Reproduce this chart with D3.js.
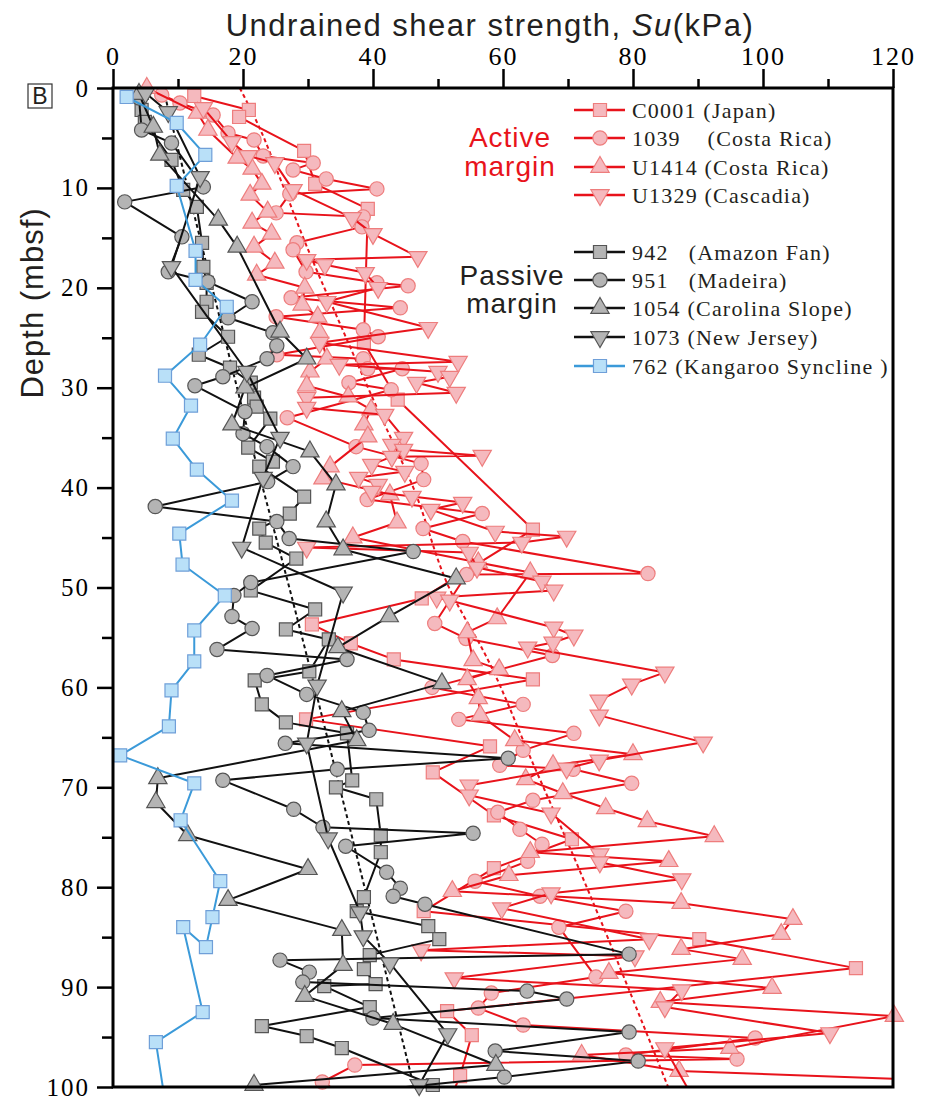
<!DOCTYPE html>
<html><head><meta charset="utf-8">
<script src="https://cdn.jsdelivr.net/npm/d3@7"></script>
<style>body{margin:0;background:#fff}</style>
</head><body>
<svg id="c" width="941" height="1102"></svg>
<script>
// ---------- DATA: [depth (mbsf), Su (kPa)] ----------
const c0001 = [[0.8,12.5],[2.2,20.9],[2.9,19.4],[6.3,29.4],[9.6,31.1],[12.1,39.2],[25.5,38.6],[31.2,43.8],[44.2,64.6],[51.1,47.5],[53.7,30.6],[55.6,36.6],[57.2,43.2],[59.2,64.6],[63.2,29.7],[65.9,58.0],[68.5,49.2],[72.8,58.6],[75.2,70.6],[78.1,58.6],[82.4,47.8],[85.2,90.2],[88.1,114.3],[92.4,51.4],[94.8,55.2],[98.9,53.4],[101,52]];
const s1039 = [[0.7,7.5],[1.5,10.3],[2.7,15.4],[4.5,17.7],[5.2,21.7],[6.8,23.1],[7.5,30.8],[8.2,27.7],[9.1,32.8],[10.1,40.6],[10.6,27.2],[12.5,25.1],[12.9,38.5],[13.9,38.3],[15.5,28.3],[16.2,27.7],[18.4,29.7],[19.5,40.6],[19.8,45.4],[21.0,27.4],[22.0,44.2],[22.9,25.1],[24.2,38.5],[24.9,40.8],[26.7,25.2],[27.1,38.5],[28.1,39.2],[28.1,44.5],[29.5,36.3],[30.2,42.8],[33.0,26.8],[35.9,37.4],[37.6,47.4],[39.2,47.8],[41.2,39.1],[42.6,56.8],[44.1,47.7],[45.4,53.8],[48.6,82.3],[48.7,54.4],[53.6,49.5],[55.1,54.3],[56.8,67.6],[60.0,49.1],[61.7,63.1],[63.2,53.2],[64.6,70.9],[66.3,63.1],[67.8,59.5],[68.2,70.8],[69.6,79.8],[71.3,64.6],[72.5,59.2],[74.2,62.6],[75.7,66.0],[77.4,63.8],[79.4,55.7],[80.9,65.7],[82.4,78.9],[84.0,68.6],[89.0,74.3],[90.6,58.2],[92.1,56.2],[93.8,63.1],[95.1,98.8],[96.8,78.9],[97.2,96.0],[97.8,37.2],[99.5,32.2],[101,36]];
const u1414 = [[0,5.2],[2.5,13.0],[4.2,14.6],[7.0,19.1],[8.1,21.4],[9.6,22.9],[10.7,21.1],[12.4,23.8],[13.5,21.4],[14.6,24.4],[15.9,21.7],[17.5,24.9],[18.7,22.1],[20.0,29.5],[21.7,29.1],[22.9,31.5],[24.5,31.8],[27.1,32.9],[28.4,30.3],[29.8,29.8],[30.9,36.2],[32.2,39.7],[33.7,38.6],[34.9,39.2],[37.9,33.4],[39.1,32.3],[40.7,42.6],[43.5,43.7],[45.0,36.9],[47.5,56.2],[48.5,64.2],[53.1,59.1],[54.5,54.5],[57.3,55.4],[58.2,59.4],[59.2,54.5],[61.1,56.2],[62.8,56.5],[65.3,61.8],[66.7,80.0],[67.8,67.7],[69.2,63.5],[70.6,69.2],[72.1,75.8],[73.4,82.2],[74.9,92.5],[76.5,64.2],[77.4,85.5],[78.8,60.9],[80.4,52.2],[81.6,87.4],[83.2,104.6],[84.7,102.8],[86.2,87.4],[87.2,96.8],[88.6,76.3],[90.1,101.4],[91.5,84.2],[92.9,120.2],[96.1,94.9],[96.8,72.1],[98.4,87.1],[99.3,125]];
const u1329 = [[2.0,13.9],[5.4,18.3],[6.8,20.8],[7.5,24.9],[10.2,27.7],[13.0,36.8],[14.6,40.0],[16.9,46.9],[17.2,29.8],[17.7,32.6],[18.5,38.8],[20.0,40.8],[21.4,32.9],[24.0,48.5],[25.5,31.8],[27.4,53.1],[27.7,34.8],[28.4,50.0],[28.9,51.8],[29.5,46.7],[30.5,52.8],[31.0,29.8],[32.0,29.8],[32.7,41.8],[35.0,44.7],[35.7,42.9],[36.2,44.7],[36.8,56.8],[36.9,42.9],[37.7,39.8],[38.4,44.9],[39.0,37.8],[39.7,40.8],[40.4,39.8],[40.9,46.0],[41.5,53.8],[42.2,48.9],[44.4,58.8],[44.9,69.8],[45.5,62.9],[46.0,29.8],[46.5,54.8],[48.0,56.0],[49.4,66.0],[50.3,67.8],[51.0,49.8],[51.3,51.8],[54.0,67.8],[54.8,70.9],[55.5,67.7],[56.0,63.8],[58.5,84.9],[59.7,79.8],[61.3,74.8],[62.8,74.8],[65.5,90.8],[67.3,74.8],[68.1,69.8],[69.8,54.8],[70.8,54.8],[72.6,67.4],[76.7,74.9],[77.5,74.9],[79.2,87.5],[80.6,67.4],[82.1,59.8],[85.2,82.5],[86.3,47.4],[86.9,80.3],[89.1,52.5],[90.3,87.5],[92.0,84.9],[94.6,110.3],[96.1,84.9],[100.8,89]];
const s942 = [[2.2,4.4],[3.4,4.9],[7.2,9.0],[10.2,10.8],[11.9,12.9],[15.5,13.7],[17.9,13.9],[19.5,14.4],[21.4,14.4],[22.4,13.7],[24.9,17.7],[26.7,13.2],[28.0,18.0],[29.5,21.2],[31.0,21.7],[31.9,22.1],[33.1,24.2],[36.0,20.8],[37.4,24.6],[37.9,22.5],[40.9,29.4],[42.6,27.2],[44.1,22.5],[45.5,23.5],[47.1,28.2],[50.3,21.2],[52.2,31.1],[54.2,26.6],[55.2,33.2],[58.4,30.2],[59.3,21.8],[61.7,22.9],[63.5,26.6],[64.6,36.0],[69.3,36.8],[70.0,34.3],[71.2,40.5],[74.8,41.2],[76.5,41.2],[81.0,38.6],[82.4,37.5],[83.9,48.5],[85.2,50.2],[86.8,39.5],[88.2,38.6],[89.7,40.4],[89.9,32.5],[92.0,39.5],[93.9,22.9],[94.9,29.8],[96.1,35.2],[99.8,49.2]];
const s951 = [[1.0,4.0],[4.2,4.4],[5.5,9.0],[9.9,13.9],[11.4,1.8],[14.9,10.6],[18.4,8.5],[19.4,14.6],[21.4,21.4],[23.0,17.7],[24.5,24.6],[25.8,25.2],[27.1,23.7],[28.9,16.9],[29.8,12.6],[32.4,20.3],[34.6,20.0],[35.9,23.7],[37.9,27.7],[39.4,23.8],[41.9,6.5],[43.4,25.2],[45.1,27.1],[46.4,46.2],[49.5,21.2],[50.8,18.6],[52.9,18.3],[54.1,21.4],[56.2,16.0],[57.2,36.0],[58.8,23.7],[60.7,29.8],[62.5,38.5],[64.3,39.4],[65.6,26.5],[67.1,60.8],[68.2,34.5],[69.3,16.9],[72.2,27.8],[74.0,32.3],[74.6,55.4],[75.9,35.8],[78.5,42.1],[80.1,44.2],[80.9,43.1],[81.7,48.0],[86.7,79.4],[87.3,25.7],[88.5,30.2],[89.5,29.2],[90.4,63.7],[91.2,69.8],[93.1,40.0],[94.5,79.4],[96.4,58.8],[97.4,80.8],[99.0,60.2],[100.8,33]];
const s1054 = [[0.6,4.0],[3.9,6.2],[6.7,7.2],[13.2,16.2],[15.9,19.1],[24.4,25.7],[27.1,29.8],[30.0,20.3],[33.7,18.3],[36.4,30.3],[39.7,34.3],[43.4,32.8],[46.2,35.4],[49.1,52.8],[52.9,42.5],[56.0,34.6],[59.6,50.6],[62.4,35.2],[65.3,37.5],[69.1,6.9],[71.5,6.6],[74.8,11.5],[78.2,30.0],[81.3,17.7],[84.3,35.2],[87.8,35.4],[90.9,29.5],[93.7,43.1],[97.8,58.9],[99.8,21.7]];
const s1073 = [[0.5,5.0],[2.4,8.5],[8.9,13.4],[17.9,9.0],[28.4,20.6],[35.0,25.7],[39.0,23.1],[46.0,19.8],[50.5,35.4],[59.8,31.4],[65.6,29.8],[75.1,33.1],[82.5,38.0],[84.9,38.5],[87.6,42.6],[94.7,51.5],[99.8,47.1]];
const s762 = [[0.9,2.1],[3.5,9.8],[6.7,14.2],[9.8,9.8],[16.3,12.7],[19.2,12.7],[21.9,17.5],[25.7,13.4],[28.8,8.0],[31.8,12.0],[35.1,9.2],[38.2,12.9],[41.3,18.3],[44.6,10.2],[47.7,10.7],[50.8,17.2],[54.3,12.5],[57.4,12.5],[60.3,9.0],[63.9,8.6],[66.8,1.1],[69.6,12.5],[73.3,10.4],[79.4,16.5],[83.0,15.3],[86.0,14.3],[84.0,10.8],[92.5,13.8],[95.5,6.6],[101,7.9]];
const activeTrend = [[0,19.5],[3.5,22.2],[9.2,25.8],[15.2,29.4],[25.2,36.0],[32,40.6],[40,46.2],[50.3,51.9],[57,57.5],[67.6,64.6],[75.3,69.8],[100,85.4]];
const passiveTrend = [[0,7.7],[8.2,10.8],[21.9,16.0],[35.2,21.1],[50.2,27.2],[75.3,36.9],[100,46.3]];
const xTicks = [0,10,20,30,40,50,60,70,80,90,100,110,120];
const xTickLabels = [0,20,40,60,80,100,120];
const yTicks = [0,5,10,15,20,25,30,35,40,45,50,55,60,65,70,75,80,85,90,95,100];
const yTickLabels = [0,10,20,30,40,50,60,70,80,90,100];
const seriesNames = ["C0001\u00a0(Japan)","1039\u00a0\u00a0\u00a0\u00a0(Costa Rica)","U1414\u00a0(Costa Rica)","U1329\u00a0(Cascadia)","942\u00a0\u00a0\u00a0(Amazon Fan)","951\u00a0\u00a0\u00a0(Madeira)","1054\u00a0(Carolina Slope)","1073\u00a0(New Jersey)","762\u00a0(Kangaroo Syncline\u00a0)"];

// ---------- STYLE ----------
const RED='#e8131b', PINK='#f5b9be', PINKS='#ee7d7d';
const BLK='#111', GREY='#b4b4b4', GREYS='#555';
const BLUE='#3b9ad9', LBLUE='#b9e0f8', BLUES='#6f9fd8';
const styles = {
  active:{line:RED, fill:PINK, stroke:PINKS},
  passive:{line:BLK, fill:GREY, stroke:GREYS},
  blue:{line:BLUE, fill:LBLUE, stroke:BLUES}
};
const series = [
  {data:c0001, sym:'square', g:'active'},
  {data:s1039, sym:'circle', g:'active'},
  {data:u1414, sym:'tri', g:'active'},
  {data:u1329, sym:'itri', g:'active'},
  {data:s942, sym:'square', g:'passive'},
  {data:s951, sym:'circle', g:'passive'},
  {data:s1054, sym:'tri', g:'passive'},
  {data:s1073, sym:'itri', g:'passive'},
  {data:s762, sym:'square', g:'blue'}
];

const svg = d3.select('#c');
const x = d3.scaleLinear().domain([0,120]).range([113,893]);
const y = d3.scaleLinear().domain([0,100]).range([88,1087]);

svg.append('defs').append('clipPath').attr('id','clip')
  .append('rect').attr('x',113).attr('y',88).attr('width',780).attr('height',999);

function symPath(s){
  if(s==='square') return d3.symbol(d3.symbolSquare,170)();
  if(s==='circle') return d3.symbol(d3.symbolCircle,160)();
  return d3.symbol(d3.symbolTriangle,145)();
}
function drawMarker(g, s, px, py, st){
  g.append('path').attr('d',symPath(s))
    .attr('transform',`translate(${px},${py})`+(s==='itri'?' rotate(180)':''))
    .attr('fill',st.fill).attr('stroke',st.stroke).attr('stroke-width',1.2);
}

const plot = svg.append('g');
const line = d3.line().x(d=>x(d[1])).y(d=>y(d[0]));

// trend lines
const trendLine = d3.line().x(d=>x(d[1])).y(d=>y(d[0])).curve(d3.curveMonotoneY);
plot.append('path').attr('d',trendLine(activeTrend)).attr('fill','none')
  .attr('stroke',RED).attr('stroke-width',2).attr('stroke-dasharray','4,3').attr('clip-path','url(#clip)');
plot.append('path').attr('d',trendLine(passiveTrend)).attr('fill','none')
  .attr('stroke',BLK).attr('stroke-width',2).attr('stroke-dasharray','4,3').attr('clip-path','url(#clip)');

series.forEach(s=>{
  const st = styles[s.g];
  const g = plot.append('g');
  g.append('path').attr('d',line(s.data)).attr('fill','none')
    .attr('stroke',st.line).attr('stroke-width',2).attr('stroke-linejoin','round')
    .attr('clip-path','url(#clip)');
  s.data.filter(d=>d[1]<=120.5 && d[0]<=100.2).forEach(d=>drawMarker(g,s.sym,x(d[1]),y(d[0]),st));
});

// axes
const axT = svg.append('g').attr('transform','translate(0,88)')
  .call(d3.axisTop(x).tickValues(xTicks).tickSize(19).tickPadding(4)
    .tickFormat(d=>xTickLabels.includes(d)?d:''));
axT.select('.domain').remove();
axT.selectAll('.tick line').attr('y2',d=>xTickLabels.includes(d)?-19:-9).attr('stroke','#000').attr('stroke-width',2.5);
axT.selectAll('.tick text').attr('font-family','Liberation Serif, serif').attr('font-size',26)
  .attr('letter-spacing','2px').attr('fill','#000');

const axL = svg.append('g').attr('transform','translate(113,0)')
  .call(d3.axisLeft(y).tickValues(yTicks).tickSize(16).tickPadding(7)
    .tickFormat(d=>yTickLabels.includes(d)?d:''));
axL.select('.domain').remove();
axL.selectAll('.tick line').attr('x2',d=>yTickLabels.includes(d)?-16:-11).attr('stroke','#000').attr('stroke-width',2.5);
axL.selectAll('.tick text').attr('font-family','Liberation Serif, serif').attr('font-size',25)
  .attr('letter-spacing','2px').attr('fill','#000');

// frame
svg.append('rect').attr('x',113).attr('y',88).attr('width',780).attr('height',999)
  .attr('fill','none').attr('stroke','#000').attr('stroke-width',3);

// titles
const tt = svg.append('text').attr('x',490).attr('y',36).attr('text-anchor','middle')
  .attr('font-family','Liberation Sans, Arial, sans-serif').attr('font-size',31)
  .attr('letter-spacing','1.5px').attr('fill','#231f20');
tt.append('tspan').text('Undrained shear strength, ');
tt.append('tspan').attr('font-style','italic').text('Su');
tt.append('tspan').text('(kPa)');

svg.append('text').attr('transform','translate(43,303) rotate(-90)').attr('text-anchor','middle')
  .attr('font-family','Liberation Sans, Arial, sans-serif').attr('font-size',31)
  .attr('letter-spacing','1px').attr('fill','#231f20').text('Depth (mbsf)');

svg.append('rect').attr('x',28).attr('y',84).attr('width',24).attr('height',24)
  .attr('fill','none').attr('stroke','#333').attr('stroke-width',1.2);
svg.append('text').attr('x',40).attr('y',104).attr('text-anchor','middle')
  .attr('font-family','Liberation Sans, Arial, sans-serif').attr('font-size',23).attr('fill','#231f20').text('B');

// group labels
[['Active',147],['margin',176]].forEach(([t,yy])=>svg.append('text').attr('x',510).attr('y',yy)
  .attr('text-anchor','middle').attr('font-family','Liberation Sans, Arial, sans-serif')
  .attr('font-size',28).attr('letter-spacing','1px').attr('fill',RED).text(t));
[['Passive',285],['margin',313]].forEach(([t,yy])=>svg.append('text').attr('x',512).attr('y',yy)
  .attr('text-anchor','middle').attr('font-family','Liberation Sans, Arial, sans-serif')
  .attr('font-size',28).attr('letter-spacing','1px').attr('fill','#231f20').text(t));

// legend
const legY = [110,138,167,195,252,280,308,337,366];
series.forEach((s,i)=>{
  const st = styles[s.g];
  const g = svg.append('g');
  g.append('line').attr('x1',574).attr('x2',625).attr('y1',legY[i]).attr('y2',legY[i])
    .attr('stroke',st.line).attr('stroke-width',2.5);
  drawMarker(g,s.sym,600,legY[i],st);
  g.append('text').attr('x',632).attr('y',legY[i]+8)
    .attr('font-family','Liberation Serif, serif').attr('font-size',22)
    .attr('letter-spacing','1.2px').attr('fill','#231f20').text(seriesNames[i]);
});
</script>
</body></html>
